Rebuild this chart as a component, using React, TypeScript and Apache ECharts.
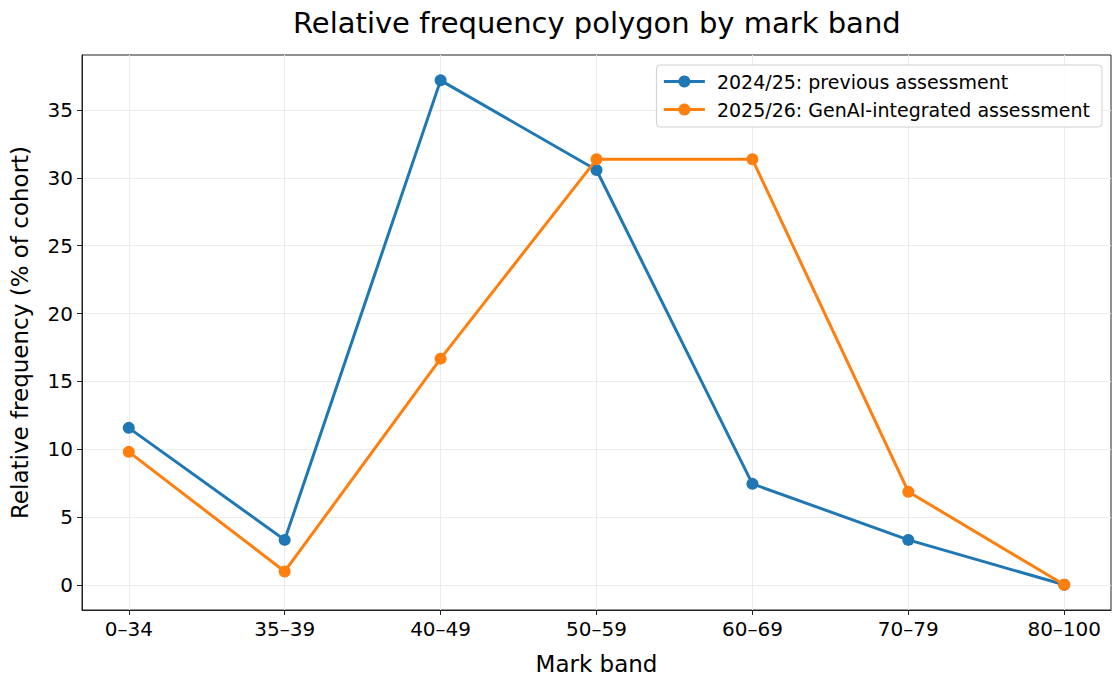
import React, { useEffect, useRef } from "react";
import * as echarts from "echarts";

const categories = ["0–34", "35–39", "40–49", "50–59", "60–69", "70–79", "80–100"];
const previous = [11.57, 3.31, 37.19, 30.58, 7.44, 3.31, 0];
const genai = [9.8, 0.98, 16.67, 31.37, 31.37, 6.86, 0];
const yTicks = [0, 5, 10, 15, 20, 25, 30, 35];
const seriesNames = ["2024/25: previous assessment", "2025/26: GenAI-integrated assessment"];

const FONT = "DejaVu Sans";

export default function App() {
  const ref = useRef<HTMLDivElement>(null);
  useEffect(() => {
    if (!ref.current) return;
    const chart = echarts.init(ref.current, undefined, { renderer: "svg" });
    const xIdx = categories.map((_, i) => i);
    chart.setOption({
      animation: false,
      backgroundColor: "#ffffff",
      textStyle: { fontFamily: FONT },
      title: {
        text: "Relative frequency polygon by mark band",
        left: 288,
        top: 3,
        textStyle: { fontFamily: FONT, fontSize: 29, fontWeight: "normal", color: "#000" },
      },
      legend: {
        orient: "vertical",
        right: 18,
        top: 65,
        padding: [7, 12, 8, 6],
        itemGap: 9,
        itemWidth: 41,
        itemHeight: 15,
        borderColor: "#d0d0d0",
        borderWidth: 1,
        borderRadius: 4,
        backgroundColor: "rgba(255,255,255,0.85)",
        lineStyle: { width: 3 },
        textStyle: { fontFamily: FONT, fontSize: 19, color: "#000", padding: [0, 0, 0, 7] },
        data: seriesNames,
      },
      grid: {
        left: 80,
        top: 55,
        right: 9,
        bottom: 74,
        show: true,
        borderColor: "#222",
        borderWidth: 1,
        containLabel: false,
      },
      xAxis: {
        type: "value",
        min: -0.3,
        max: 6.3,
        name: "Mark band",
        nameLocation: "middle",
        nameGap: 42,
        nameTextStyle: { fontFamily: FONT, fontSize: 23, color: "#000" },
        axisLine: { show: true, onZero: false, lineStyle: { color: "#222", width: 1 } },
        axisTick: { show: true, length: 5, lineStyle: { color: "#222" }, customValues: xIdx },
        axisLabel: {
          customValues: xIdx,
          formatter: (v: number) => categories[Math.round(v)] ?? "",
          fontFamily: FONT,
          fontSize: 20,
          color: "#000",
          margin: 9,
        },
        splitLine: { show: true, lineStyle: { color: "#ebebeb", width: 1 } },
      },
      yAxis: {
        type: "value",
        min: -1.86,
        max: 39.06,
        name: "Relative frequency (% of cohort)",
        nameLocation: "middle",
        nameGap: 51,
        nameTextStyle: { fontFamily: FONT, fontSize: 23, color: "#000" },
        axisLine: { show: true, onZero: false, lineStyle: { color: "#222", width: 1 } },
        axisTick: { show: true, length: 5, lineStyle: { color: "#222" }, customValues: yTicks },
        axisLabel: {
          customValues: yTicks,
          fontFamily: FONT,
          fontSize: 20,
          color: "#000",
          margin: 9,
        },
        splitLine: { show: true, lineStyle: { color: "#ebebeb", width: 1 } },
      },
      series: [
        {
          name: seriesNames[0],
          type: "line",
          data: previous.map((v, i) => [i, v]),
          symbol: "circle",
          symbolSize: 12,
          itemStyle: { color: "#1f77b4" },
          lineStyle: { color: "#1f77b4", width: 3 },
          z: 3,
        },
        {
          name: seriesNames[1],
          type: "line",
          data: genai.map((v, i) => [i, v]),
          symbol: "circle",
          symbolSize: 12,
          itemStyle: { color: "#ff7f0e" },
          lineStyle: { color: "#ff7f0e", width: 3 },
          z: 4,
        },
      ],
    });
    return () => chart.dispose();
  }, []);
  return (
    <div
      ref={ref}
      style={{ position: "fixed", left: 0, top: 0, width: 1120, height: 684, background: "#fff" }}
    />
  );
}
